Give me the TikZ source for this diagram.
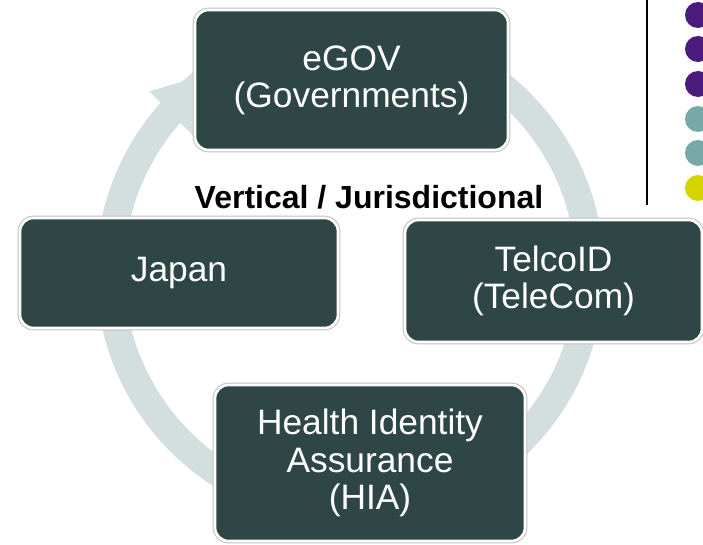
\documentclass[tikz,border=0pt]{standalone}
\usepackage{fontspec}
\setmainfont{Liberation Sans}
\definecolor{boxfill}{HTML}{2E4646}
\definecolor{ringfill}{HTML}{D3DEDE}
\definecolor{dotpurple}{HTML}{4A1A7C}
\definecolor{dotteal}{HTML}{76A9A8}
\definecolor{dotyellow}{HTML}{D6D400}
\tikzset{
  stage/.style={rectangle, rounded corners=10pt, fill=boxfill, draw=white,
    line width=2pt, preaction={draw=black!25, line width=3.5pt},
    text=white, align=center, inner sep=0pt,
    font=\fontsize{26.5}{28}\selectfont},
  dot/.style={circle, inner sep=0pt, minimum size=19.5pt}
}
\begin{document}
\begin{tikzpicture}[x=0.75pt,y=-0.75pt]
  \useasboundingbox (0,0) rectangle (703,545);
  % cycle ring
  \coordinate (c) at (350,272);
  \draw[ringfill, line width=21pt] (c) circle[radius=240];
  \fill[ringfill, shift={(350,272)}]
    (-138:270) -- (-123:240) -- (-139:208) -- cycle;
  % stages
  \node[stage, minimum width=0.75*313pt, minimum height=0.75*140pt]
    (egov) at (351.5,80) {eGOV\\(Governments)};
  \node[stage, minimum width=0.75*318pt, minimum height=0.75*110pt]
    (japan) at (179,273) {Japan};
  \node[stage, minimum width=0.75*297pt, minimum height=0.75*122pt]
    (telco) at (553.5,281) {TelcoID\\(TeleCom)};
  \node[stage, minimum width=0.75*310pt, minimum height=0.75*156pt]
    (hia) at (370,463) {Health Identity\\Assurance\\(HIA)};
  \node[font=\fontsize{24}{26}\selectfont\bfseries] (axis) at (369,197)
    {Vertical / Jurisdictional};
  % legend
  \coordinate (ltop) at (647,0);
  \coordinate (lbot) at (647,205);
  \draw[line width=1.5pt] (ltop) -- (lbot);
  \node[dot, fill=dotpurple] (d1) at (698,15) {};
  \node[dot, fill=dotpurple] (d2) at (698,49) {};
  \node[dot, fill=dotpurple] (d3) at (698,84) {};
  \node[dot, fill=dotteal] (d4) at (698,119) {};
  \node[dot, fill=dotteal] (d5) at (698,153) {};
  \node[dot, fill=dotyellow] (d6) at (698,188) {};
\end{tikzpicture}
\end{document}
